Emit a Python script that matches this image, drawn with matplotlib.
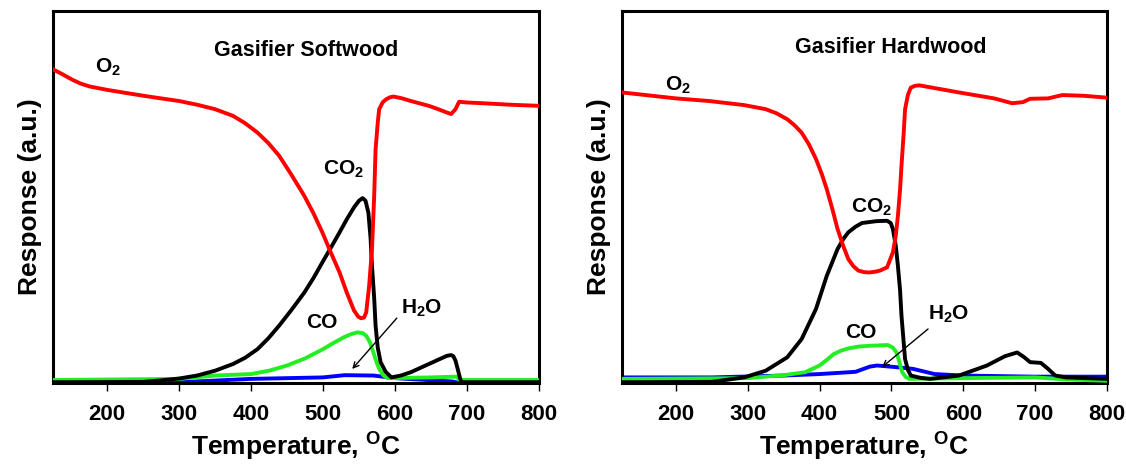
import matplotlib
matplotlib.use("Agg")
import matplotlib.pyplot as plt

plt.rcParams['font.family'] = ['Liberation Sans', 'DejaVu Sans']
plt.rcParams['font.weight'] = 'bold'
plt.rcParams['mathtext.fontset'] = 'custom'
plt.rcParams['mathtext.rm'] = 'Liberation Sans:bold'
plt.rcParams['mathtext.bf'] = 'Liberation Sans:bold'
plt.rcParams['mathtext.it'] = 'Liberation Sans:bold'
plt.rcParams['mathtext.default'] = 'bf'

# ---------------- Softwood (left) ----------------
sw_o2_x = [125, 138, 151, 163, 176, 200, 225, 251, 275, 300, 325, 350, 375, 392, 409, 424, 439,
           456, 474, 487, 499, 511, 523, 533, 543, 549, 553, 557, 560, 564, 568, 571, 573, 576,
           578, 583, 588, 593, 598, 610, 622, 647, 660, 672, 678, 684, 689, 700, 722, 760, 800]
sw_o2_y = [0.843, 0.830, 0.816, 0.805, 0.797, 0.788, 0.780, 0.772, 0.765, 0.758, 0.748, 0.736,
           0.718, 0.698, 0.673, 0.645, 0.611, 0.560, 0.503, 0.455, 0.405, 0.350, 0.297, 0.243,
           0.195, 0.178, 0.174, 0.176, 0.190, 0.260, 0.360, 0.500, 0.628, 0.700, 0.736, 0.755,
           0.763, 0.768, 0.770, 0.765, 0.758, 0.745, 0.736, 0.727, 0.723, 0.736, 0.756, 0.754,
           0.752, 0.748, 0.745]

sw_co2_x = [125, 250, 275, 300, 325, 350, 375, 392, 409, 424, 439, 456, 474, 487, 499, 511,
            523, 533, 543, 550, 555, 559, 563, 566, 568, 571, 573, 576, 580, 587, 595, 608,
            622, 647, 672, 678, 681, 684, 687, 690, 692, 800]
sw_co2_y = [0.002, 0.003, 0.007, 0.012, 0.020, 0.033, 0.051, 0.068, 0.091, 0.120, 0.154, 0.196,
            0.243, 0.283, 0.324, 0.364, 0.405, 0.440, 0.472, 0.490, 0.497, 0.490, 0.458, 0.390,
            0.315, 0.230, 0.154, 0.095, 0.056, 0.030, 0.015, 0.020, 0.029, 0.051, 0.073, 0.075,
            0.072, 0.060, 0.038, 0.015, 0.002, 0.002]

sw_co_x = [125, 300, 350, 400, 425, 450, 475, 500, 515, 530, 540, 548, 555, 560, 565, 570,
           574, 578, 584, 590, 650, 685, 690, 800]
sw_co_y = [0.008, 0.011, 0.020, 0.024, 0.033, 0.047, 0.066, 0.091, 0.108, 0.124, 0.132, 0.136,
           0.134, 0.127, 0.110, 0.082, 0.058, 0.038, 0.020, 0.013, 0.015, 0.017, 0.008, 0.008]

sw_h2o_x = [125, 300, 400, 500, 530, 570, 600, 680, 690, 800]
sw_h2o_y = [0.002, 0.002, 0.011, 0.015, 0.021, 0.020, 0.013, 0.004, 0.0, 0.0]

# ---------------- Hardwood (right) ----------------
hw_o2_x = [125, 200, 246, 295, 325, 340, 355, 365, 375, 385, 395, 403, 410, 418, 425, 433,
           440, 447, 454, 462, 469, 477, 484, 494, 502, 506, 509, 512, 514, 517, 519, 523, 527,
           533, 539, 594, 643, 668, 683, 693, 718, 738, 768, 800]
hw_o2_y = [0.781, 0.765, 0.758, 0.747, 0.736, 0.725, 0.709, 0.693, 0.673, 0.642, 0.602, 0.562,
           0.521, 0.466, 0.414, 0.368, 0.333, 0.314, 0.302, 0.298, 0.297, 0.299, 0.302, 0.311,
           0.351, 0.395, 0.449, 0.520, 0.584, 0.670, 0.736, 0.775, 0.794, 0.799, 0.800, 0.781,
           0.765, 0.752, 0.755, 0.764, 0.765, 0.774, 0.772, 0.767]

hw_co2_x = [125, 250, 295, 325, 355, 375, 395, 410, 425, 433, 440, 450, 459, 479, 494, 499,
            502, 506, 509, 512, 514, 517, 519, 523, 527, 540, 554, 594, 633, 658, 675, 685,
            693, 708, 718, 728, 743, 800]
hw_co2_y = [0.002, 0.003, 0.015, 0.033, 0.069, 0.118, 0.199, 0.288, 0.360, 0.387, 0.405, 0.420,
            0.430, 0.435, 0.436, 0.430, 0.414, 0.370, 0.315, 0.250, 0.181, 0.110, 0.064, 0.035,
            0.020, 0.014, 0.011, 0.020, 0.047, 0.072, 0.082, 0.069, 0.056, 0.054, 0.038, 0.020,
            0.015, 0.011]

hw_co_x = [125, 300, 350, 380, 400, 410, 420, 430, 440, 455, 470, 495, 502, 507, 510, 513,
           515, 520, 525, 600, 700, 750, 800]
hw_co_y = [0.011, 0.013, 0.021, 0.029, 0.047, 0.062, 0.078, 0.087, 0.093, 0.098, 0.100, 0.102,
           0.095, 0.082, 0.064, 0.042, 0.029, 0.016, 0.011, 0.013, 0.015, 0.009, 0.006]

hw_h2o_x = [125, 250, 350, 400, 450, 470, 480, 510, 530, 560, 600, 700, 800]
hw_h2o_y = [0.015, 0.015, 0.020, 0.024, 0.030, 0.044, 0.047, 0.042, 0.038, 0.024, 0.020, 0.017,
            0.017]

xticks = [200, 300, 400, 500, 600, 700, 800]
titles = ["Gasifier Softwood", "Gasifier Hardwood"]

RED = '#ff0000'
BLACK = '#000000'
GREEN = '#22ee22'
BLUE = '#0000ff'

fig = plt.figure(figsize=(11.26, 4.69), dpi=100)
ax1 = fig.add_axes([0.0471, 0.1834, 0.4316, 0.7932])
ax2 = fig.add_axes([0.5524, 0.1834, 0.4307, 0.7932])

panels = [
    (ax1, sw_o2_x, sw_o2_y, sw_co2_x, sw_co2_y, sw_co_x, sw_co_y, sw_h2o_x, sw_h2o_y, titles[0],
     dict(title=(476, 0.893), o2=(201, 0.848), co2=(528, 0.575), co=(498, 0.163), h2o=(637, 0.200),
          arr_from=(605, 0.180), arr_to=(538, 0.032))),
    (ax2, hw_o2_x, hw_o2_y, hw_co2_x, hw_co2_y, hw_co_x, hw_co_y, hw_h2o_x, hw_h2o_y, titles[1],
     dict(title=(499, 0.903), o2=(203, 0.800), co2=(472, 0.472), co=(457, 0.136), h2o=(579, 0.185),
          arr_from=(554, 0.150), arr_to=(484, 0.038))),
]

lw = 2.8
for ax, ox, oy, cx, cy, gx, gy, hx, hy, title, pos in panels:
    ax.plot(hx, hy, color=BLUE, lw=lw, zorder=2, solid_joinstyle='round')
    ax.plot(gx, gy, color=GREEN, lw=lw, zorder=3, solid_joinstyle='round')
    ax.plot(cx, cy, color=BLACK, lw=lw, zorder=4, solid_joinstyle='round')
    ax.plot(ox, oy, color=RED, lw=lw, zorder=5, solid_joinstyle='round')

    ax.set_xlim(125, 800)
    ax.set_ylim(0, 1.0)
    ax.set_xticks(xticks)
    ax.set_xticklabels([str(t) for t in xticks], fontsize=16, fontweight='bold')
    ax.set_yticks([])
    ax.tick_params(axis='x', direction='out', length=6, width=1.0, pad=9, top=False)
    for s in ax.spines.values():
        s.set_linewidth(2.2)
    ax.set_xlabel(r'Temperature, $^{\mathrm{O}}$C', fontsize=19, fontweight='bold', labelpad=4)
    ax.set_ylabel('Response (a.u.)', fontsize=19, fontweight='bold', labelpad=8)

    ax.text(*pos['title'], title, ha='center', va='center', fontsize=15.5, fontweight='bold')
    ax.text(*pos['o2'], r'O$_2$', ha='center', va='center', fontsize=15, fontweight='bold')
    ax.text(*pos['co2'], r'CO$_2$', ha='center', va='center', fontsize=15, fontweight='bold')
    ax.text(*pos['co'], 'CO', ha='center', va='center', fontsize=15, fontweight='bold')
    ax.text(*pos['h2o'], r'H$_2$O', ha='center', va='center', fontsize=15, fontweight='bold')
    ax.annotate('', xy=pos['arr_to'], xytext=pos['arr_from'],
                arrowprops=dict(arrowstyle='->', color='black', lw=1.0), zorder=6)

fig.savefig('out.png', dpi=100)
